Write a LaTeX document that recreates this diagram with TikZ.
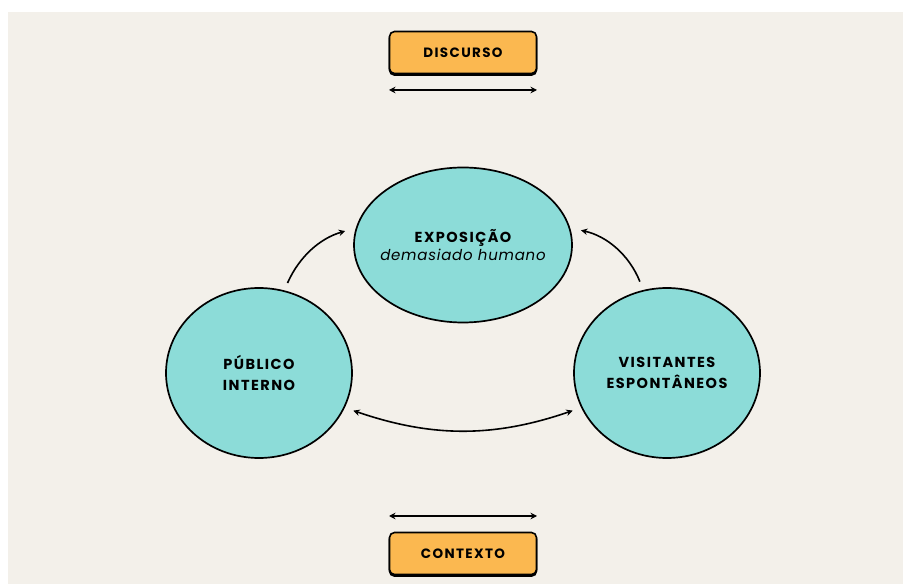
\documentclass[tikz,border=0pt]{standalone}
\usepackage{fontspec}
\setmainfont{Poppins}
\newfontfamily\capsfont{Poppins Bold}[LetterSpace=10]
\newfontfamily\itfont{Poppins Italic}[LetterSpace=5]
\usetikzlibrary{shapes.geometric,arrows.meta}
\definecolor{bg}{HTML}{F3F0EA}
\definecolor{boxor}{HTML}{FBB850}
\definecolor{teal}{HTML}{8CDCD8}
\tikzset{
  lbl/.style={draw=black, line width=1.6pt, fill=boxor, rounded corners=5pt,
     minimum width=147pt, minimum height=42pt, inner sep=0pt,
     font=\capsfont\fontsize{13.5}{15}\selectfont,
     preaction={fill=black, draw=black, transform canvas={yshift=-1.6pt}}},
  bub/.style={ellipse, draw=black, line width=1.7pt, fill=teal, inner sep=-30pt,
     align=center, font=\capsfont\fontsize{14.5}{21}\selectfont},
  arr/.style={line width=1.6pt, -{Stealth[length=6.5pt,width=6.5pt,inset=2.2pt]}},
  darr/.style={line width=1.6pt, {Stealth[length=6.5pt,width=6.5pt,inset=2.2pt]}-{Stealth[length=6.5pt,width=6.5pt,inset=2.2pt]}}
}
\begin{document}
\begin{tikzpicture}[x=1pt,y=1pt]
\useasboundingbox (0,0) rectangle (903,584);
\fill[white] (0,0) rectangle (903,584);
\fill[bg] (8,0) rectangle (903,572);
% boxes
\node[lbl] (disc) at (463,531.5) {DISCURSO};
\node[lbl] (ctx) at (463,30.5) {CONTEXTO};
\coordinate (d1) at (389,494);
\coordinate (d2) at (537,494);
\coordinate (c1) at (389,68);
\coordinate (c2) at (537,68);
\draw[darr] (d1) -- (d2);
\draw[darr] (c1) -- (c2);
% circles
\node[bub, minimum width=218pt, minimum height=155pt] (expo) at (463,339)
  {EXPOSIÇÃO\\[-3pt]{\itfont\fontsize{15}{21}\selectfont demasiado humano}};
\node[bub, minimum width=186pt, minimum height=170pt] (pub) at (259,211)
  {PÚBLICO\\INTERNO};
\node[bub, minimum width=186pt, minimum height=170pt] (vis) at (667,211)
  {VISITANTES\\ESPONTÂNEOS};
% connectors
\draw[arr, shorten <=8pt, shorten >=11pt] (pub.73) to[bend left=25] (expo.171);
\draw[arr, shorten <=9pt, shorten >=11pt] (vis.106) to[bend right=28] (expo.9);
\draw[darr, shorten <=9pt, shorten >=9pt] (pub.-22) to[bend right=19] (vis.202);
\end{tikzpicture}
\end{document}
